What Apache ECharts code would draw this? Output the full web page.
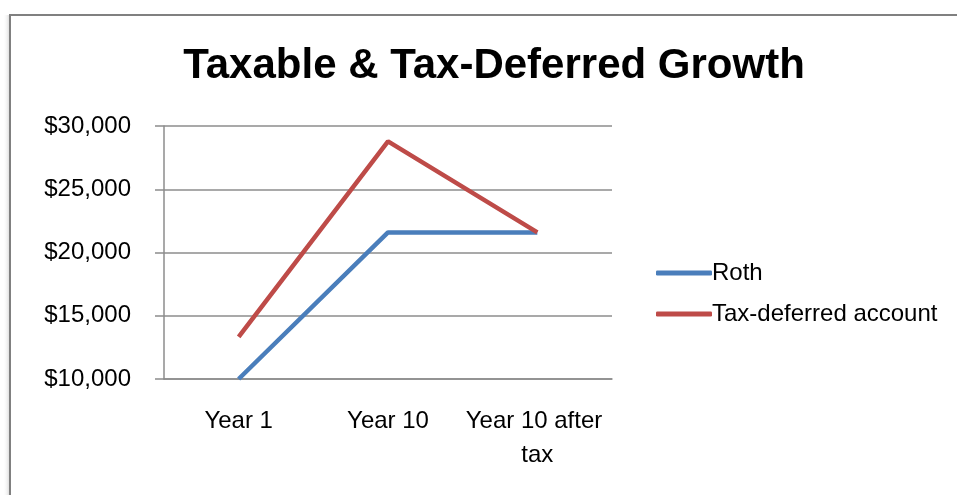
<!DOCTYPE html>
<html>
<head>
<meta charset="utf-8">
<script src="https://cdn.jsdelivr.net/npm/echarts@6/dist/echarts.min.js"></script>
<style>
html,body{margin:0;padding:0;background:#fff;}
#chart{width:957px;height:495px;}
</style>
</head>
<body>
<div id="chart"></div>
<script>
const categories = ["Year 1", "Year 10", "Year 10 after tax"];
const rothValues = [10000, 21589, 21589];
const taxDeferredValues = [13333, 28785, 21589];
const seriesNames = ["Roth", "Tax-deferred account"];
const titleText = "Taxable & Tax-Deferred Growth";
const yMin = 10000, yMax = 30000, yStep = 5000;

const FONT = "Liberation Sans";
const chart = echarts.init(document.getElementById('chart'), null, {renderer: 'canvas'});
chart.setOption({
  backgroundColor: '#fff',
  animation: false,
  graphic: [
    {type: 'rect', shape: {x: 3, y: 15, width: 6, height: 490},
     style: {fill: new echarts.graphic.LinearGradient(0, 0, 1, 0, [{offset: 0, color: 'rgba(255,255,255,0)'}, {offset: 1, color: 'rgba(0,0,0,0.12)'}])}, silent: true},
    {type: 'polyline', shape: {points: [[10, 500], [10, 15], [960, 15]]},
     style: {stroke: '#808080', lineWidth: 2, fill: null}, silent: true}
  ],
  title: {
    text: titleText,
    left: 489, top: 40, textAlign: 'center',
    textStyle: {fontFamily: FONT, fontWeight: 'bold', fontSize: 42, color: '#000'}
  },
  legend: {
    orient: 'vertical',
    left: 651, top: 256,
    itemWidth: 56, itemHeight: 5, itemGap: 17,
    icon: 'roundRect',
    textStyle: {fontFamily: FONT, fontSize: 24, color: '#000', padding: [0, 0, 0, -5]},
    data: seriesNames
  },
  grid: {left: 164, right: 345, top: 126, bottom: 116, containLabel: false},
  xAxis: {
    type: 'category',
    data: categories,
    boundaryGap: true,
    axisLine: {show: true, lineStyle: {color: '#8c8c8c', width: 1.5}},
    axisTick: {show: false},
    axisLabel: {fontFamily: FONT, fontSize: 24, color: '#000', margin: 25, width: 150, overflow: 'break', lineHeight: 34, interval: 0}
  },
  yAxis: {
    type: 'value',
    min: yMin, max: yMax, interval: yStep,
    axisLine: {show: true, lineStyle: {color: '#8c8c8c', width: 1.5}},
    axisTick: {show: true, length: 9, lineStyle: {color: '#8c8c8c', width: 1.5}},
    splitLine: {show: true, lineStyle: {color: '#8c8c8c', width: 1.5}},
    axisLabel: {fontFamily: FONT, fontSize: 24, color: '#000', margin: 33,
      formatter: v => '$' + v.toLocaleString('en-US')}
  },
  series: [
    {name: seriesNames[0], type: 'line', data: rothValues, symbol: 'none',
     lineStyle: {color: '#4A7EBB', width: 4.5}, itemStyle: {color: '#4A7EBB'}},
    {name: seriesNames[1], type: 'line', data: taxDeferredValues, symbol: 'none',
     lineStyle: {color: '#BE4B48', width: 4.5}, itemStyle: {color: '#BE4B48'}}
  ]
});
</script>
</body>
</html>
